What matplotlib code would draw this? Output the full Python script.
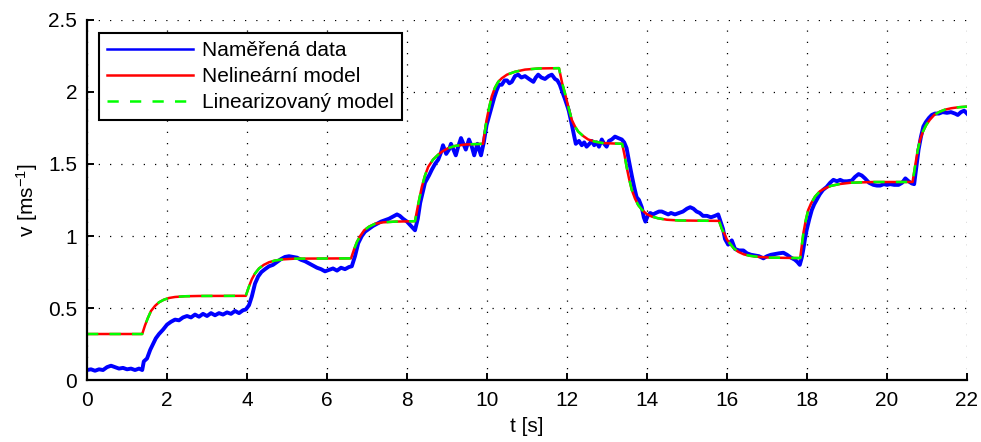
import numpy as np
import matplotlib
matplotlib.use("Agg")
import matplotlib.pyplot as plt

plt.rcParams['font.family'] = ['Liberation Sans', 'DejaVu Sans']
plt.rcParams['mathtext.fontset'] = 'custom'
plt.rcParams['mathtext.rm'] = 'Liberation Sans'
plt.rcParams['mathtext.it'] = 'Liberation Sans'

meas_t = [0.0, 0.1, 0.2, 0.3, 0.4, 0.5, 0.6, 0.7, 0.8, 0.9, 1.0, 1.1, 1.2, 1.3, 1.38,
          1.42, 1.5, 1.58, 1.65, 1.72, 1.8, 1.9, 2.0, 2.1, 2.2, 2.3, 2.4, 2.5, 2.6, 2.7,
          2.8, 2.9, 3.0, 3.1, 3.2, 3.3, 3.4, 3.5, 3.6, 3.7, 3.8, 3.9, 3.97,
          4.05, 4.12, 4.2, 4.28, 4.36, 4.45, 4.55, 4.65, 4.75, 4.85, 4.95, 5.05, 5.15,
          5.25, 5.35, 5.45, 5.55, 5.65, 5.75, 5.85, 5.95, 6.05, 6.15, 6.25, 6.35, 6.45,
          6.55, 6.62, 6.7, 6.78, 6.87, 6.95, 7.05, 7.15, 7.25, 7.35, 7.45, 7.55, 7.65,
          7.75, 7.82, 7.9, 8.0, 8.1, 8.2, 8.27, 8.33, 8.45, 8.55, 8.62, 8.7, 8.78, 8.85,
          8.9, 8.98, 9.05, 9.1, 9.16, 9.22, 9.28, 9.35, 9.41, 9.47, 9.55, 9.62, 9.68,
          9.76, 9.85, 9.92, 9.99, 10.06, 10.12, 10.18, 10.24, 10.3, 10.37, 10.44, 10.5,
          10.56, 10.62, 10.7, 10.78, 10.86, 10.95, 11.05, 11.16, 11.22, 11.28, 11.36,
          11.45, 11.54, 11.62, 11.7, 11.76, 11.82, 11.87, 11.95, 12.04, 12.1, 12.16,
          12.22, 12.3, 12.37, 12.43, 12.49, 12.56, 12.62, 12.68, 12.74, 12.8, 12.87,
          12.93, 12.99, 13.05, 13.12, 13.2, 13.28, 13.37, 13.43, 13.49, 13.55, 13.62,
          13.68, 13.74, 13.8, 13.87, 13.92, 13.96, 14.02, 14.08, 14.15, 14.22, 14.3,
          14.37, 14.45, 14.53, 14.6, 14.7, 14.8, 14.9, 15.0, 15.08, 15.16, 15.24, 15.32,
          15.4, 15.5, 15.6, 15.7, 15.78, 15.84, 15.9, 15.95, 16.03, 16.12, 16.2, 16.3,
          16.41, 16.5, 16.6, 16.7, 16.8, 16.91, 17.0, 17.1, 17.2, 17.3, 17.41, 17.5,
          17.6, 17.7, 17.76, 17.82, 17.87, 17.91, 17.95, 17.99, 18.06, 18.12, 18.18,
          18.24, 18.32, 18.4, 18.49, 18.58, 18.66, 18.75, 18.83, 18.91, 19.0, 19.12,
          19.2, 19.29, 19.37, 19.45, 19.55, 19.66, 19.75, 19.83, 19.92, 20.0, 20.08,
          20.18, 20.29, 20.38, 20.46, 20.54, 20.62, 20.68, 20.73, 20.79, 20.85, 20.91,
          20.97, 21.05, 21.12, 21.2, 21.3, 21.39, 21.5, 21.6, 21.7, 21.77, 21.85, 21.93,
          22.0]
meas_v = [0.07, 0.075, 0.065, 0.075, 0.07, 0.09, 0.10, 0.09, 0.08, 0.085, 0.075, 0.08, 0.07, 0.08, 0.07,
          0.13, 0.15, 0.21, 0.25, 0.29, 0.32, 0.35, 0.385, 0.405, 0.42, 0.415, 0.435, 0.445, 0.435, 0.455,
          0.44, 0.46, 0.445, 0.465, 0.45, 0.465, 0.455, 0.47, 0.46, 0.48, 0.465, 0.485, 0.49,
          0.52, 0.58, 0.67, 0.72, 0.75, 0.77, 0.79, 0.80, 0.82, 0.84, 0.855, 0.86, 0.855,
          0.85, 0.835, 0.825, 0.81, 0.795, 0.78, 0.77, 0.755, 0.765, 0.775, 0.76, 0.78, 0.77,
          0.785, 0.79, 0.86, 0.95, 1.0, 1.03, 1.05, 1.07, 1.085, 1.10, 1.11, 1.12, 1.135,
          1.15, 1.14, 1.12, 1.10, 1.07, 1.04, 1.12, 1.23, 1.37, 1.42, 1.46, 1.50, 1.53, 1.58,
          1.63, 1.57, 1.60, 1.64, 1.60, 1.56, 1.62, 1.68, 1.64, 1.60, 1.67, 1.62, 1.56,
          1.64, 1.56, 1.65, 1.77, 1.84, 1.90, 1.96, 2.01, 2.05, 2.05, 2.08, 2.08,
          2.06, 2.07, 2.11, 2.12, 2.10, 2.11, 2.09, 2.07, 2.10, 2.12, 2.10,
          2.09, 2.11, 2.12, 2.09, 2.08, 2.05, 2.01, 1.95, 1.875, 1.80, 1.72,
          1.64, 1.66, 1.63, 1.65, 1.62, 1.64, 1.66, 1.63, 1.65, 1.62, 1.67,
          1.64, 1.62, 1.66, 1.67, 1.69, 1.68, 1.67, 1.65, 1.61, 1.52, 1.42,
          1.34, 1.27, 1.25, 1.20, 1.13, 1.10, 1.14, 1.16, 1.15, 1.16, 1.17,
          1.17, 1.16, 1.15, 1.16, 1.15, 1.16, 1.17, 1.19, 1.20, 1.19, 1.17, 1.16,
          1.14, 1.14, 1.13, 1.14, 1.15, 1.10, 1.05, 0.98, 0.94, 0.97, 0.91, 0.90,
          0.90, 0.88, 0.87, 0.865, 0.86, 0.845, 0.86, 0.87, 0.875, 0.88, 0.884, 0.87,
          0.85, 0.835, 0.82, 0.80, 0.85, 0.91, 0.98, 1.04, 1.12, 1.18, 1.22,
          1.25, 1.29, 1.32, 1.34, 1.37, 1.39, 1.38, 1.39, 1.38, 1.38, 1.385,
          1.41, 1.43, 1.42, 1.40, 1.37, 1.355, 1.35, 1.35, 1.36, 1.355, 1.36,
          1.355, 1.355, 1.37, 1.40, 1.38, 1.365, 1.36, 1.47, 1.60, 1.69, 1.76,
          1.79, 1.82, 1.84, 1.85, 1.85, 1.86, 1.855, 1.86, 1.85, 1.84, 1.86, 1.87,
          1.85]

# nonlinear model response
model_t = [0.0, 1.38, 1.45, 1.52, 1.6, 1.7, 1.8, 1.92, 2.05, 2.2, 2.45, 2.8, 3.97,
           4.05, 4.12, 4.2, 4.3, 4.42, 4.55, 4.7, 4.9, 5.2, 6.6,
           6.68, 6.75, 6.83, 6.93, 7.05, 7.2, 7.4, 7.7, 8.2,
           8.28, 8.37, 8.45, 8.53, 8.65, 8.78, 8.9, 9.03, 9.2, 9.45, 9.9,
           9.99, 10.06, 10.12, 10.2, 10.28, 10.37, 10.5, 10.7, 10.95, 11.3, 11.8,
           11.88, 11.95, 12.03, 12.12, 12.2, 12.28, 12.4, 12.53, 12.7, 12.9, 13.38,
           13.44, 13.49, 13.55, 13.62, 13.7, 13.78, 13.88, 13.99, 14.12, 14.28, 14.5, 14.8, 15.8,
           15.87, 15.95, 16.0, 16.07, 16.17, 16.28, 16.42, 16.57, 16.8, 17.1, 17.83,
           17.91, 17.97, 18.03, 18.1, 18.2, 18.32, 18.45, 18.6, 18.82, 19.1, 19.66, 20.64,
           20.7, 20.77, 20.83, 20.9, 20.98, 21.07, 21.18, 21.32, 21.45, 21.61, 21.8, 22.0]
model_v = [0.32, 0.32, 0.38, 0.43, 0.48, 0.515, 0.54, 0.558, 0.57, 0.577, 0.582, 0.584, 0.585,
           0.65, 0.70, 0.74, 0.775, 0.80, 0.818, 0.83, 0.838, 0.843, 0.845,
           0.91, 0.96, 1.0, 1.04, 1.065, 1.085, 1.095, 1.10, 1.103,
           1.22, 1.34, 1.42, 1.48, 1.53, 1.565, 1.59, 1.61, 1.625, 1.635, 1.64,
           1.806, 1.90, 1.97, 2.03, 2.07, 2.095, 2.12, 2.14, 2.155, 2.163, 2.165,
           2.06, 1.99, 1.90, 1.806, 1.76, 1.725, 1.695, 1.67, 1.655, 1.645, 1.64,
           1.56, 1.48, 1.40, 1.32, 1.26, 1.215, 1.18, 1.153, 1.135, 1.123, 1.113, 1.108, 1.105,
           1.05, 1.007, 0.975, 0.949, 0.915, 0.891, 0.873, 0.863, 0.855, 0.85, 0.847,
           1.02, 1.11, 1.18, 1.225, 1.273, 1.31, 1.331, 1.348, 1.361, 1.37, 1.375, 1.375,
           1.48, 1.597, 1.67, 1.725, 1.77, 1.806, 1.84, 1.863, 1.877, 1.887, 1.894, 1.898]

# linearized model (visually identical to the nonlinear one)
lin_t = list(model_t)
lin_v = list(model_v)

fig = plt.figure(figsize=(9.81, 4.42), dpi=100)
ax = fig.add_axes([0.0887, 0.140, 0.897, 0.815])

ax.plot(meas_t, meas_v, color=(0, 0, 1), lw=2.8, label='Naměřená data')
ax.plot(model_t, model_v, color=(1, 0, 0), lw=1.8, label='Nelineární model')
ax.plot(lin_t, lin_v, color=(0, 1, 0), lw=1.8, dashes=(4.5, 4.5), label='Linearizovaný model')

ax.set_xlim(0, 22)
ax.set_ylim(0, 2.5)
ax.set_xticks(np.arange(0, 23, 2))
ax.set_yticks([0, 0.5, 1, 1.5, 2, 2.5])
ax.set_yticklabels(['0', '0.5', '1', '1.5', '2', '2.5'])

ax.grid(True, color='black', lw=0.9, linestyle=(0, (1, 8)))
ax.set_axisbelow(True)
for s in ['top', 'right']:
    ax.spines[s].set_visible(False)
for s in ['left', 'bottom']:
    ax.spines[s].set_linewidth(1.6)
ax.tick_params(direction='in', length=5, width=1.4, labelsize=15)
ax.tick_params(axis='x', pad=8)
ax.tick_params(axis='y', pad=7)

ax.set_xlabel('t [s]', fontsize=15, labelpad=5)
ax.set_ylabel('v [ms$^{-1}$]', fontsize=15, labelpad=6)

leg = ax.legend(loc='upper left', bbox_to_anchor=(0.0136, 0.964), borderaxespad=0,
                fontsize=15, handlelength=4.1, handletextpad=0.45, labelspacing=0.33,
                fancybox=False, framealpha=1, edgecolor='black', borderpad=0.4)
leg.get_frame().set_linewidth(1.5)
leg.get_lines()[0].set_linewidth(1.8)

fig.savefig('out.png', dpi=100)
